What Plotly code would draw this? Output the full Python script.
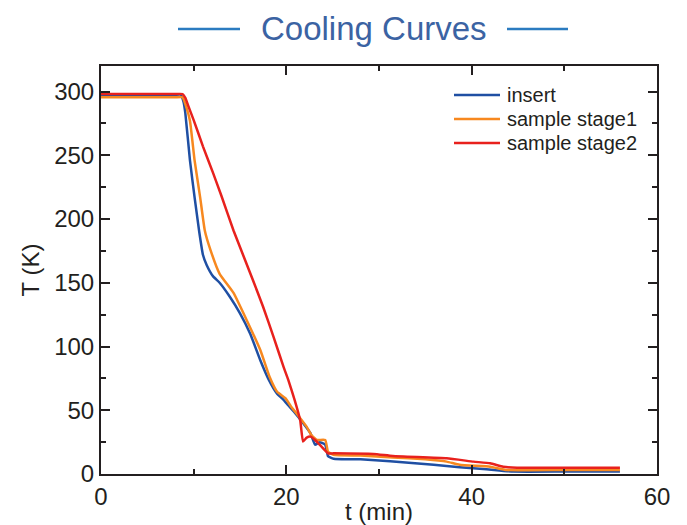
import plotly.graph_objects as go

# Cooling run: time in minutes, temperature in kelvin
t_insert = [0, 4.0, 8.0, 8.6, 8.9, 9.1, 9.6, 10.1, 10.6, 11.0, 11.4, 12.1, 12.8, 13.9, 15.0,
            16.1, 17.2, 18.1, 19.0, 19.6, 20.2, 20.8, 21.8, 22.6, 23.1, 23.6, 24.2, 24.5,
            25.1, 28.0, 31.2, 35.9, 38.7, 41.6, 44.5, 50.0, 56.0]
T_insert = [297.5, 297.5, 297.5, 297.5, 292, 283, 246, 217, 190, 172, 164, 155, 150, 139,
            126, 110, 89, 74, 63, 59, 54, 49, 40, 32, 23, 25, 23, 14,
            12, 11.5, 10, 7.2, 5.3, 3.8, 1.9, 1.9, 1.9]

t_stage1 = [0, 4.0, 8.0, 8.8, 9.2, 9.6, 10.1, 10.7, 11.2, 11.8, 12.8, 14.3, 15.7, 17.2,
            18.2, 19.0, 19.9, 20.5, 21.1, 22.2, 22.7, 23.3, 24.2, 24.5, 25.1, 28.0, 31.5,
            35.0, 37.3, 38.7, 42.0, 43.8, 50.0, 56.0]
T_stage1 = [295.5, 295.5, 295.5, 295.5, 288, 277, 246, 217, 191, 176, 157, 142, 121, 97,
            76, 64.5, 59.5, 53, 47.5, 37, 30.6, 26.7, 26.7, 17.5, 15, 14.5, 13,
            11.5, 9.7, 7.2, 5.7, 3.1, 3.1, 3.1]

t_stage2 = [0, 4.0, 8.0, 8.8, 9.1, 9.4, 10.0, 11.0, 12.1, 13.0, 14.3, 16.4, 17.5, 18.6,
            19.7, 20.2, 20.9, 21.5, 21.8, 22.2, 22.6, 23.1, 23.8, 24.5, 25.1, 29.4, 31.5,
            37.3, 40.2, 42.0, 43.4, 44.9, 50.0, 56.0]
T_stage2 = [298, 298, 298, 298, 295, 289, 277.6, 257, 236, 218, 191, 152, 131, 108,
            84, 74, 58, 42, 25.5, 28.5, 29.3, 26.7, 21.4, 16.2, 16.2, 15.7, 14.1,
            12.3, 9.7, 8.4, 5.7, 4.9, 4.9, 4.9]

series_names = ["insert", "sample stage1", "sample stage2"]
series_t = [t_insert, t_stage1, t_stage2]
series_T = [T_insert, T_stage1, T_stage2]
series_colors = ["#1f4fa3", "#f7881f", "#e8211d"]

FONT = "Liberation Sans, Arial, sans-serif"
INK = "#231f20"

# plot-area geometry in pixels (used for the paper-space decorations)
L, R, TOP, BOT = 101, 657, 66, 474
PW, PH = R - L, BOT - TOP


def px_x(x):
    return (x - L) / PW


def px_y(y):
    return (BOT - y) / PH


fig = go.Figure()
for name, t, T, color in zip(series_names, series_t, series_T, series_colors):
    fig.add_trace(go.Scatter(x=t, y=T, mode="lines", name=name, showlegend=False,
                             line=dict(color=color, width=2.5, shape="spline",
                                       smoothing=0.4)))

axis_common = dict(
    showline=True, linecolor=INK, linewidth=2, mirror="ticks",
    ticks="inside", ticklen=9, tickwidth=2, tickcolor=INK,
    showgrid=False, zeroline=False, automargin=False,
    tickfont=dict(family=FONT, size=24, color=INK),
    minor=dict(ticks="inside", ticklen=5, tickwidth=2, tickcolor=INK, showgrid=False),
)

fig.update_xaxes(range=[0, 60], dtick=20, minor_dtick=10,
                 title=dict(text="t (min)", font=dict(family=FONT, size=24, color=INK),
                            standoff=0),
                 **axis_common)
fig.update_yaxes(range=[0, 320], dtick=50, minor_dtick=25,
                 title=dict(text="T (K)", font=dict(family=FONT, size=24, color=INK),
                            standoff=8),
                 **axis_common)

# Title with decorative rules on both sides
fig.add_annotation(text="Cooling Curves", xref="paper", yref="paper",
                   x=0.491, y=1.0, yshift=58, showarrow=False,
                   font=dict(family=FONT, size=33, color="#3b63a3"))
for x0, x1 in [(178, 240), (507, 568)]:
    fig.add_shape(type="line", xref="paper", yref="paper",
                  x0=px_x(x0), x1=px_x(x1), y0=px_y(29), y1=px_y(29),
                  line=dict(color="#2b7bc0", width=2.5))

# Compact key in the upper right of the plot area
for i, (name, color) in enumerate(zip(series_names, series_colors)):
    yk = px_y(95 + 24 * i)
    fig.add_shape(type="line", xref="paper", yref="paper",
                  x0=px_x(454), x1=px_x(500), y0=yk, y1=yk,
                  line=dict(color=color, width=2.5))
    fig.add_annotation(text=name, xref="paper", yref="paper",
                       x=px_x(505), y=yk, xanchor="left", yanchor="middle",
                       showarrow=False,
                       font=dict(family=FONT, size=20, color=INK))

fig.update_layout(
    width=687, height=525,
    margin=dict(l=L, r=687 - R, t=TOP, b=525 - BOT),
    paper_bgcolor="white", plot_bgcolor="white",
    showlegend=False,
)

fig.write_html("out.html")
